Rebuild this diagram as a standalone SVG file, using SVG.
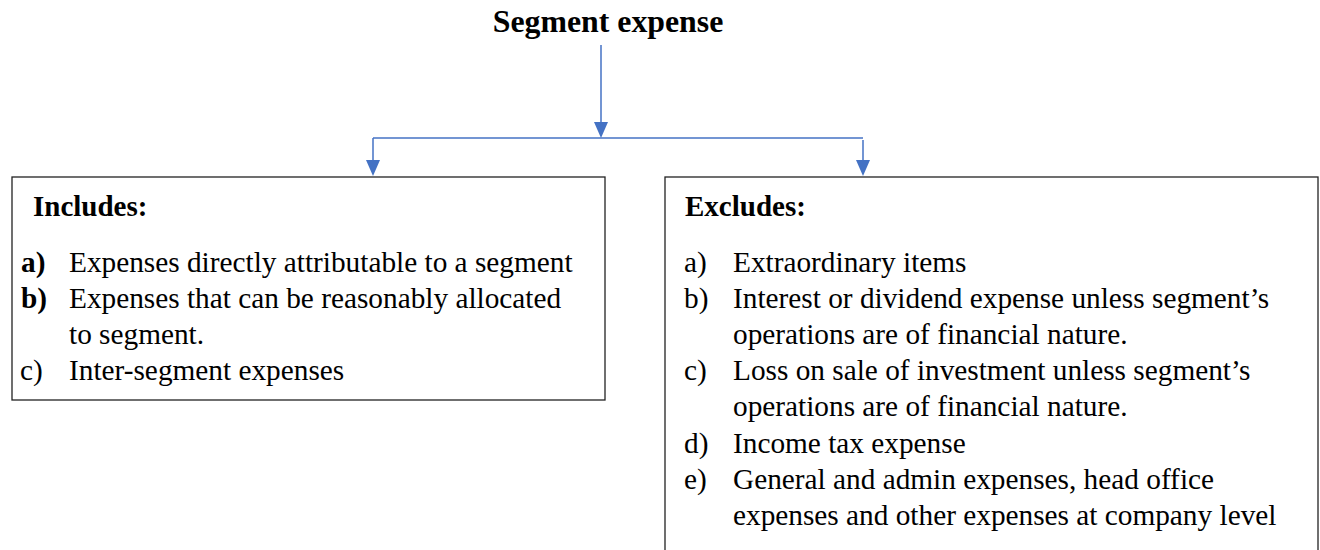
<svg xmlns="http://www.w3.org/2000/svg" width="1320" height="550" viewBox="0 0 1320 550">
<style>
text{font-family:"Liberation Serif","Times New Roman",serif;fill:#000;}
.t{font-size:31.8px;font-weight:bold;}
.h{font-size:29px;font-weight:bold;}
.i{font-size:29.3px;}
.b{font-weight:bold;}
.box{fill:#fff;stroke:#222;stroke-width:1.3;}
.c{fill:none;stroke:#4472C4;stroke-width:1.5;}
.ah{fill:#4472C4;}
</style>
<rect width="1320" height="550" fill="#fff"/>
<g id="title">
<text class="t" x="608" y="32" text-anchor="middle">Segment expense</text>
</g>
<g id="connectors">
<path class="c" d="M601,45 V122"/>
<path class="ah" d="M594,122 L608,122 L601,138 Z"/>
<path class="c" d="M373,138 H863"/>
<path class="c" d="M373,138 V160"/>
<path class="ah" d="M366,160 L380,160 L373,176 Z"/>
<path class="c" d="M863,140 V160"/>
<path class="ah" d="M856,160 L870,160 L863,176 Z"/>
</g>
<g id="includes">
<rect class="box" x="12" y="177" width="593" height="223"/>
<text class="h" x="33" y="216">Includes:</text>
<text class="i b" x="21" y="272">a)</text>
<text class="i" x="69" y="272">Expenses directly attributable to a segment</text>
<text class="i b" x="21" y="308">b)</text>
<text class="i" x="69" y="308">Expenses that can be reasonably allocated</text>
<text class="i" x="69" y="344">to segment.</text>
<text class="i" x="20" y="380">c)</text>
<text class="i" x="69" y="380">Inter-segment expenses</text>
</g>
<g id="excludes">
<rect class="box" x="665" y="177" width="653" height="400"/>
<text class="h" x="685" y="216">Excludes:</text>
<text class="i" x="684" y="272">a)</text>
<text class="i" x="733" y="272">Extraordinary items</text>
<text class="i" x="684" y="308">b)</text>
<text class="i" x="733" y="308">Interest or dividend expense unless segment’s</text>
<text class="i" x="733" y="344">operations are of financial nature.</text>
<text class="i" x="684" y="380">c)</text>
<text class="i" x="733" y="380">Loss on sale of investment unless segment’s</text>
<text class="i" x="733" y="416">operations are of financial nature.</text>
<text class="i" x="684" y="453">d)</text>
<text class="i" x="733" y="453">Income tax expense</text>
<text class="i" x="684" y="489">e)</text>
<text class="i" x="733" y="489">General and admin expenses, head office</text>
<text class="i" x="733" y="525">expenses and other expenses at company level</text>
</g>
</svg>
